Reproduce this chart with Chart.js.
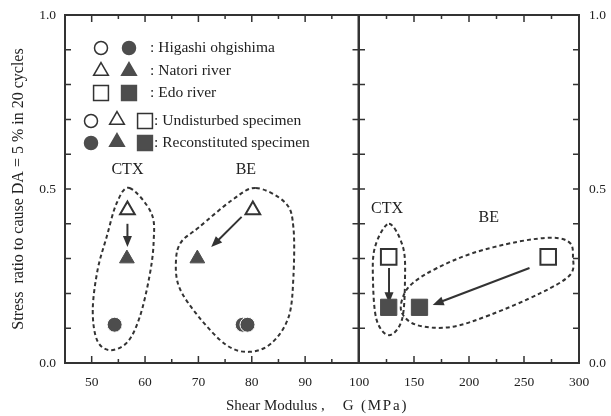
<!DOCTYPE html>
<html>
<head>
<meta charset="utf-8">
<script src="https://cdn.jsdelivr.net/npm/chart.js@4.4.1/dist/chart.umd.min.js"></script>
<style>
  body { margin: 0; background: #fff; }
  #wrap { position: relative; width: 611px; height: 416px; overflow: hidden; }
  canvas { position: absolute; top: 0; }
  #left { left: 0; }
  #right { left: 340px; }
  #xtitle { position: absolute; top: 397px; left: 226px; font: 15px "Liberation Serif", serif;
            color: #222; white-space: pre; line-height: 16px; }
  #xtitle span + span { margin-left: 18px; letter-spacing: 1.8px; }
</style>
</head>
<body>
<div id="wrap">
  <canvas id="left" width="369" height="416"></canvas>
  <canvas id="right" width="271" height="416"></canvas>
  <div id="xtitle"><span>Shear Modulus ,</span><span>G (MPa)</span></div>
</div>
<script>
// Left panel: Higashi ohgishima and Natori river (G 45-100 MPa)
const natoriUndX = [56.7, 80.2];
const natoriUndY = [0.44, 0.44];
const natoriRecX = [56.6, 69.8];
const natoriRecY = [0.30, 0.30];
const higashiRecX = [54.3, 78.3, 79.2];
const higashiRecY = [0.11, 0.11, 0.11];

// Right panel: Edo river (G 100-300 MPa)
const edoUndX = [127, 272];
const edoUndY = [0.305, 0.305];
const edoRecX = [127, 155];
const edoRecY = [0.16, 0.16];

// tick labels
const leftXTicks = [50, 60, 70, 80, 90];
const leftXMinor = [55, 65, 75, 85, 95];
const rightXTicks = [100, 150, 200, 250, 300];
const rightXMinor = [125, 175, 225, 275];
const yTicks = [0.0, 0.5, 1.0];
const yMinor = [0.1, 0.2, 0.3, 0.4, 0.5, 0.6, 0.7, 0.8, 0.9];

const legendText = [": Higashi ohgishima", ": Natori river", ": Edo river",
                    ": Undisturbed specimen", ": Reconstituted specimen"];
const yTitle = "Stress  ratio to cause DA = 5 % in 20 cycles";

// dashed groupings (CTX / BE) in data units
const leftCtxOutline = [[57.1,0.503],[61.2,0.43],[61.6,0.345],[60.8,0.247],[59,0.132],[56.7,0.06],
  [53.4,0.037],[51,0.066],[50.2,0.152],[51.1,0.267],[52.8,0.362],[54.7,0.46]];
const leftBeOutline = [[80.8,0.503],[86.3,0.46],[87.8,0.39],[87.8,0.247],[86.9,0.132],[83.7,0.057],
  [79.5,0.032],[75.2,0.052],[70.1,0.132],[66.4,0.218],[65.8,0.296],[66.8,0.348],[70.1,0.39],[76.3,0.468]];
const rightCtxOutline = [[127.3,0.40],[140,0.333],[141.8,0.238],[139,0.124],[127.3,0.08],
  [116,0.124],[112.7,0.238],[114.5,0.333]];
const rightBeOutline = [[139,0.144],[152.7,0.109],[182.7,0.103],[219,0.138],[264.5,0.2],[291.8,0.253],
  [294.5,0.305],[291.8,0.345],[276,0.36],[243.6,0.348],[203.6,0.316],[171,0.273],[149,0.23],[140,0.19]];

const leftArrows = [[[56.7,0.40],[56.7,0.333]], [[78.1,0.42],[72.4,0.333]]];
const rightArrows = [[[127.3,0.273],[127.3,0.172]], [[255,0.273],[167,0.167]]];

const leftNotes = [["CTX",56.7,0.555], ["BE",78.9,0.555]];
const rightNotes = [["CTX",125.5,0.443], ["BE",218,0.417]];

const FONT = '"Liberation Serif", "Times New Roman", serif';
const INK = '#333';
const FILL = '#4d4d4d';

function pts(xs, ys) { return xs.map((x, i) => ({x: x, y: ys[i]})); }

function openSet(data, style, r) {
  return {data: data, pointStyle: style, pointRadius: r, backgroundColor: '#fff',
          borderColor: INK, borderWidth: 2};
}
function filledSet(data, style, r) {
  return {data: data, pointStyle: style, pointRadius: r, backgroundColor: FILL,
          borderColor: FILL, borderWidth: 1};
}

const deco = {
  id: 'deco',
  beforeDatasetsDraw(chart, args, o) {
    const ctx = chart.ctx, xs = chart.scales.x, ys = chart.scales.y;
    const px = p => [xs.getPixelForValue(p[0]), ys.getPixelForValue(p[1])];
    ctx.save();
    ctx.strokeStyle = INK;
    ctx.fillStyle = INK;
    ctx.lineWidth = 2;
    ctx.setLineDash([4, 3]);
    o.outlines.forEach(list => {
      const q = list.map(px), n = q.length;
      ctx.beginPath();
      ctx.moveTo(q[0][0], q[0][1]);
      for (let i = 0; i < n; i++) {
        const p0 = q[(i - 1 + n) % n], p1 = q[i], p2 = q[(i + 1) % n], p3 = q[(i + 2) % n];
        ctx.bezierCurveTo(p1[0] + (p2[0] - p0[0]) / 6, p1[1] + (p2[1] - p0[1]) / 6,
                          p2[0] - (p3[0] - p1[0]) / 6, p2[1] - (p3[1] - p1[1]) / 6, p2[0], p2[1]);
      }
      ctx.closePath();
      ctx.stroke();
    });
    ctx.setLineDash([]);
    o.arrows.forEach(a => {
      const [x1, y1] = px(a[0]), [x2, y2] = px(a[1]);
      const ang = Math.atan2(y2 - y1, x2 - x1), c = Math.cos(ang), s = Math.sin(ang);
      ctx.beginPath();
      ctx.moveTo(x1, y1);
      ctx.lineTo(x2 - 8 * c, y2 - 8 * s);
      ctx.stroke();
      ctx.beginPath();
      ctx.moveTo(x2, y2);
      ctx.lineTo(x2 - 11 * c + 4.5 * s, y2 - 11 * s - 4.5 * c);
      ctx.lineTo(x2 - 11 * c - 4.5 * s, y2 - 11 * s + 4.5 * c);
      ctx.closePath();
      ctx.fill();
    });
    ctx.font = '16px ' + FONT;
    ctx.fillStyle = '#222';
    ctx.textAlign = 'center';
    ctx.textBaseline = 'middle';
    o.notes.forEach(n => {
      const [x, y] = px([n[1], n[2]]);
      ctx.fillText(n[0], x, y);
    });
    ctx.restore();
  },
  afterDraw(chart, args, o) {
    const ctx = chart.ctx, a = chart.chartArea, xs = chart.scales.x, ys = chart.scales.y;
    ctx.save();
    ctx.strokeStyle = INK;
    ctx.lineWidth = 2;
    ctx.strokeRect(a.left, a.top, a.right - a.left, a.bottom - a.top);
    ctx.lineWidth = 1.5;
    ctx.beginPath();
    yMinor.forEach(v => {
      const y = ys.getPixelForValue(v);
      ctx.moveTo(a.left, y); ctx.lineTo(a.left + 6, y);
      ctx.moveTo(a.right, y); ctx.lineTo(a.right - 6, y);
    });
    o.xMajor.concat(o.xMinor).forEach(v => {
      const x = xs.getPixelForValue(v), len = o.xMajor.includes(v) ? 7 : 4;
      ctx.moveTo(x, a.bottom); ctx.lineTo(x, a.bottom - len);
      ctx.moveTo(x, a.top); ctx.lineTo(x, a.top + len);
    });
    ctx.stroke();

    if (o.legend) {
      const drawSym = (style, filled, r, x, y) => {
        ctx.fillStyle = filled ? FILL : '#fff';
        ctx.strokeStyle = filled ? FILL : INK;
        Chart.helpers.drawPoint(ctx, {pointStyle: style, radius: r, rotation: 0, borderWidth: 2.2}, x, y);
      };
      const sizes = {circle: 6.5, triangle: 8.5, rect: 10.5};
      [['circle', 48], ['triangle', 71], ['rect', 93]].forEach(row => {
        drawSym(row[0], false, sizes[row[0]], 101, row[1]);
        drawSym(row[0], true, sizes[row[0]], 129, row[1]);
      });
      [[121, false], [143, true]].forEach(row => {
        drawSym('circle', row[1], sizes.circle, 91, row[0]);
        drawSym('triangle', row[1], sizes.triangle, 117, row[0] - 1);
        drawSym('rect', row[1], sizes.rect, 145, row[0]);
      });
      ctx.font = '15.5px ' + FONT;
      ctx.fillStyle = '#222';
      ctx.textAlign = 'left';
      ctx.textBaseline = 'middle';
      [48, 71, 93].forEach((y, i) => ctx.fillText(legendText[i], 150, y));
      ctx.fillText(legendText[3], 154, 121);
      ctx.fillText(legendText[4], 154, 143);
    }
    ctx.restore();
  }
};

const tickFont = {family: FONT, size: 13.5};

function xScale(min, max, labels) {
  return {
    type: 'linear', min: min, max: max,
    grid: {display: false, drawTicks: false}, border: {display: false},
    afterBuildTicks: s => { s.ticks = labels.map(v => ({value: v})); },
    afterFit: s => { s.height = 53; s.paddingLeft = 0; s.paddingRight = 0; },
    ticks: {font: tickFont, color: '#222', padding: 11, maxRotation: 0, autoSkip: false}
  };
}

function yScale(pos, width, withTitle) {
  return {
    type: 'linear', position: pos, min: 0, max: 1,
    grid: {display: false, drawTicks: false}, border: {display: false},
    afterBuildTicks: s => { s.ticks = yTicks.map(v => ({value: v})); },
    afterFit: s => { s.width = width; s.paddingTop = 0; s.paddingBottom = 0; },
    ticks: {font: tickFont, color: '#222', padding: pos === 'left' ? 9 : 10,
            callback: v => Number(v).toFixed(1)},
    title: {display: withTitle, text: yTitle, color: '#222',
            font: {family: FONT, size: 16}, padding: {top: 9, bottom: 0}}
  };
}

Chart.defaults.font.family = FONT;

new Chart(document.getElementById('left'), {
  type: 'scatter',
  data: {
    datasets: [
      openSet(pts(natoriUndX, natoriUndY), 'triangle', 8.5),
      filledSet(pts(natoriRecX, natoriRecY), 'triangle', 8.5),
      Object.assign(filledSet(pts(higashiRecX, higashiRecY), 'circle', 7.5), {borderColor: '#fff'})
    ]
  },
  options: {
    responsive: false,
    animation: false,
    layout: {padding: {top: 15, right: 3, left: 0, bottom: 0}},
    plugins: {
      legend: {display: false},
      tooltip: {enabled: false},
      deco: {outlines: [leftCtxOutline, leftBeOutline], arrows: leftArrows, notes: leftNotes,
             xMajor: leftXTicks, xMinor: leftXMinor, legend: true}
    },
    scales: {x: xScale(45, 100, leftXTicks), y: yScale('left', 65, true)}
  },
  plugins: [deco]
});

new Chart(document.getElementById('right'), {
  type: 'scatter',
  data: {
    datasets: [
      openSet(pts(edoUndX, edoUndY), 'rect', 11),
      filledSet(pts(edoRecX, edoRecY), 'rect', 11.5)
    ]
  },
  options: {
    responsive: false,
    animation: false,
    layout: {padding: {top: 15, right: 0, left: 19, bottom: 0}},
    plugins: {
      legend: {display: false},
      tooltip: {enabled: false},
      deco: {outlines: [rightCtxOutline, rightBeOutline], arrows: rightArrows, notes: rightNotes,
             xMajor: rightXTicks, xMinor: rightXMinor, legend: false}
    },
    scales: {x: xScale(100, 300, rightXTicks), y: yScale('right', 32, false)}
  },
  plugins: [deco]
});
</script>
</body>
</html>
